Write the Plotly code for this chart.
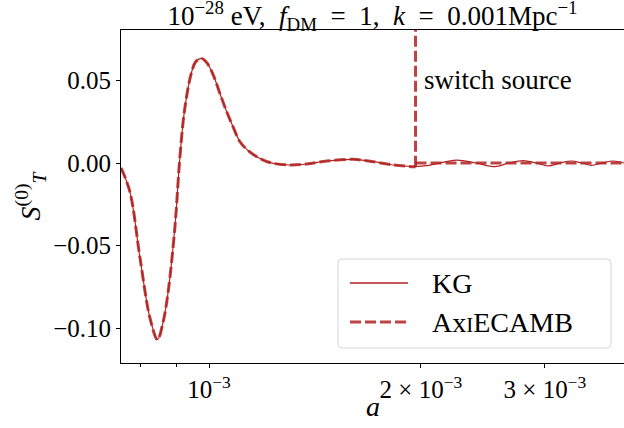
import plotly.graph_objects as go

# ---- data ----
a_pre = [7.5e-4, 7.72e-4, 7.98e-4, 8.245e-4, 8.45e-4, 8.60e-4, 8.75e-4, 8.95e-4, 9.09e-4,
         9.24e-4, 9.45e-4, 9.58e-4, 9.76e-4, 9.94e-4, 1.0141e-3, 1.0366e-3, 1.0596e-3,
         1.0817e-3, 1.1066e-3, 1.1364e-3, 1.1691e-3, 1.2010e-3, 1.2337e-3, 1.3034e-3,
         1.3765e-3, 1.4696e-3, 1.6031e-3, 1.7117e-3, 1.8273e-3, 1.9508e-3, 1.965e-3]
s_pre = [-0.003, -0.0174, -0.0576, -0.094, -0.107, -0.097, -0.078, -0.0376, 0.003,
         0.0333, 0.0553, 0.0615, 0.0634, 0.0605, 0.0533, 0.042, 0.0311,
         0.022, 0.0129, 0.0075, 0.0038, 0.0013, -0.0002, -0.0012,
         -0.0006, 0.0012, 0.0022, 0.0008, -0.0012, -0.0022, -0.0022]

a_kg_post = [1.965e-3, 2.038e-3, 2.101e-3, 2.247e-3, 2.394e-3, 2.548e-3, 2.667e-3, 2.795e-3,
             2.914e-3, 3.034e-3, 3.152e-3, 3.274e-3, 3.386e-3, 3.495e-3, 3.615e-3,
             3.749e-3, 3.886e-3]
s_kg_post = [-0.0022, -0.0016, -0.0005, 0.0018, 0.0, -0.0022, 0.0, 0.0015,
             0.0, -0.0018, 0.0, 0.0012, 0.0, -0.0014, 0.0,
             0.0012, 0.0]

a_switch = 1.965e-3
a_axi_post = [1.965e-3, 3.886e-3]
s_axi_post = [0.0, 0.0]
switch_y = [-0.0022, 0.09]

y_tickvals = [-0.10, -0.05, 0.0, 0.05]
y_ticktext = ["−0.10", "−0.05", "0.00", "0.05"]
x_tickvals = [1e-3, 2e-3, 3e-3]
x_ticktext = ["10<sup>−3</sup>", "2 × 10<sup>−3</sup>", "3 × 10<sup>−3</sup>"]
x_minor = [8e-4, 9e-4]

legend_names = ["KG", "Ax<span style='font-size:21px'>I</span>ECAMB"]

KG_COLOR = "#b22222"
AXI_COLOR = "rgba(178,34,34,0.85)"
FONT = "Liberation Serif"
DASH = "11px,4px"

# plot area in pixels (for the hand-drawn legend box)
L, R, T, B = 121, 624, 30, 363
def px(x):
    return (x - L) / (R - L)
def py(y):
    return (B - y) / (B - T)

fig = go.Figure()

fig.add_trace(go.Scatter(x=a_pre + a_kg_post[1:], y=s_pre + s_kg_post[1:], mode="lines",
                         line=dict(color=KG_COLOR, width=1.2, shape="spline", smoothing=1.0),
                         name=legend_names[0], showlegend=False))
fig.add_trace(go.Scatter(x=a_pre, y=s_pre, mode="lines",
                         line=dict(color=AXI_COLOR, width=3, dash=DASH, shape="spline", smoothing=1.0),
                         name=legend_names[1], showlegend=False))
fig.add_trace(go.Scatter(x=[a_switch, a_switch], y=switch_y, mode="lines",
                         line=dict(color=AXI_COLOR, width=3, dash=DASH), showlegend=False))
fig.add_trace(go.Scatter(x=a_axi_post, y=s_axi_post, mode="lines",
                         line=dict(color=AXI_COLOR, width=3, dash=DASH), showlegend=False))

fig.add_annotation(x=-2.6974, y=0.0503, xref="x", yref="y", text="switch source", showarrow=False,
                   xanchor="left", yanchor="middle", font=dict(family=FONT, size=27, color="black"))

# x-axis label placed like the reference
fig.add_annotation(x=0.5, y=py(407), xref="paper", yref="paper", text="<i>a</i>", showarrow=False,
                   xanchor="center", yanchor="middle", font=dict(family=FONT, size=28, color="black"))

# legend (drawn by hand to match the rounded matplotlib box)
x0, x1, y0, y1, r = px(338), px(611), py(259), py(348), 4 / (R - L)
ry = 4 / (B - T)
fig.add_shape(type="path", xref="paper", yref="paper",
              path=(f"M {x0+r},{y0} L {x1-r},{y0} Q {x1},{y0} {x1},{y0-ry} L {x1},{y1+ry} "
                    f"Q {x1},{y1} {x1-r},{y1} L {x0+r},{y1} Q {x0},{y1} {x0},{y1+ry} "
                    f"L {x0},{y0-ry} Q {x0},{y0} {x0+r},{y0} Z"),
              line=dict(color="#d6d6d6", width=1), fillcolor="rgba(255,255,255,0.85)", layer="above")
fig.add_shape(type="line", xref="paper", yref="paper", x0=px(350), x1=px(408), y0=py(283), y1=py(283),
              line=dict(color=KG_COLOR, width=1.5), layer="above")
fig.add_shape(type="line", xref="paper", yref="paper", x0=px(350), x1=px(408), y0=py(322), y1=py(322),
              line=dict(color=AXI_COLOR, width=3, dash=DASH), layer="above")
for name, yy in zip(legend_names, [283, 322]):
    fig.add_annotation(x=px(430), y=py(yy), xref="paper", yref="paper", text=name, showarrow=False,
                       xanchor="left", yanchor="middle", font=dict(family=FONT, size=28, color="black"))

title_text = ("10<sup>−28</sup> eV,\u2002<i>f</i><sub>DM</sub>\u2002=\u20021,\u2002"
              "<i>k</i>\u2002=\u20020.001Mpc<sup>−1</sup>")

fig.update_layout(
    width=624, height=428,
    margin=dict(l=L, r=0, t=T, b=428 - B),
    paper_bgcolor="white", plot_bgcolor="white",
    font=dict(family=FONT, size=25, color="black"),
    title=dict(text=title_text, x=0.5, xref="paper", xanchor="center",
               y=1 - 16 / 428, yanchor="middle", font=dict(family=FONT, size=27)),
    showlegend=False,
)
fig.update_xaxes(type="log", range=[-3.125, -2.4105], showgrid=False, zeroline=False,
                 showline=True, linecolor="black", linewidth=1, mirror=True,
                 tickmode="array", tickvals=x_tickvals, ticktext=x_ticktext,
                 ticks="outside", ticklen=4, tickcolor="black", tickfont=dict(size=25),
                 minor=dict(tickmode="array", tickvals=x_minor, ticks="outside", ticklen=2.5, tickcolor="black"))
fig.update_yaxes(range=[-0.1212, 0.0806], showgrid=False, zeroline=False,
                 showline=True, linecolor="black", linewidth=1, mirror=True,
                 tickmode="array", tickvals=y_tickvals, ticktext=y_ticktext,
                 ticks="outside", ticklen=4, tickcolor="black", tickfont=dict(size=25),
                 title=dict(text="<i>S</i><sup>(0)</sup><sub><i>T</i></sub>", font=dict(family=FONT, size=28), standoff=4))

fig.write_html("out.html")
